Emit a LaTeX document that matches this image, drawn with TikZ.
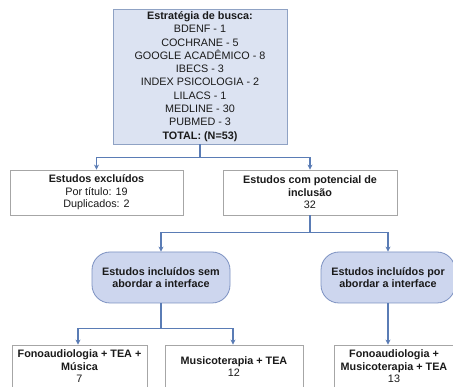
\documentclass[tikz,border=0pt]{standalone}
\usepackage{fontspec}
\setmainfont{Liberation Sans}
\usetikzlibrary{arrows.meta}
\definecolor{topfill}{HTML}{DCE3F2}
\definecolor{topdraw}{HTML}{8FA2C4}
\definecolor{rndfill}{HTML}{CDD6EE}
\definecolor{rnddraw}{HTML}{7D92C2}
\definecolor{conncol}{HTML}{5A7CB5}
\definecolor{boxdraw}{HTML}{A6A6A6}
\definecolor{txt}{HTML}{1A1A1A}
\begin{document}
\begin{tikzpicture}[x=1pt,y=-1pt,
 base/.style={inner sep=0pt, align=center, text=txt, font=\fontsize{10.8}{12.5}\selectfont},
 topbox/.style={base, draw=topdraw, fill=topfill, line width=0.8pt, font=\fontsize{10.8}{13.3}\selectfont},
 plainbox/.style={base, draw=boxdraw, fill=white, line width=0.8pt},
 rndbox/.style={base, draw=rnddraw, fill=rndfill, line width=0.8pt, rounded corners=18pt},
 conn/.style={draw=conncol, line width=1.1pt},
 arr/.style={conn, -{Stealth[length=5pt,width=5pt]}}]
\useasboundingbox (0,0) rectangle (453,387);
\clip (0,0) rectangle (453,387);
\fill[white] (0,0) rectangle (453,387);

\node[topbox, minimum width=174pt, minimum height=135pt] (top) at (200,76.5)
 {\textbf{Estratégia de busca:}\\BDENF - 1\\COCHRANE - 5\\GOOGLE ACADÊMICO - 8\\IBECS - 3\\INDEX PSICOLOGIA - 2\\LILACS - 1\\MEDLINE - 30\\PUBMED - 3\\\textbf{TOTAL: (N=53)}};

\node[plainbox, minimum width=173pt, minimum height=45pt] (m1) at (96.5,192.5)
 {\textbf{Estudos excluídos}\\Por título: 19\\Duplicados: 2};
\node[plainbox, minimum width=174pt, minimum height=45pt] (m2) at (310,192.5)
 {\textbf{Estudos com potencial de}\\\textbf{inclusão}\\32};

\node[rndbox, minimum width=138pt, minimum height=51pt] (r1) at (161,277.5)
 {\textbf{Estudos incluídos sem}\\\textbf{abordar a interface}};
\node[rndbox, minimum width=134pt, minimum height=51pt] (r2) at (388,277.5)
 {\textbf{Estudos incluídos por}\\\textbf{abordar a interface}};

\node[plainbox, minimum width=135pt, minimum height=43pt] (b1) at (79.5,366.5)
 {\textbf{Fonoaudiologia + TEA +}\\\textbf{Música}\\7};
\node[plainbox, minimum width=138pt, minimum height=43pt] (b2) at (234,366.5)
 {\textbf{Musicoterapia + TEA}\\12};
\node[plainbox, minimum width=120pt, minimum height=43pt] (b3) at (394,366.5)
 {\textbf{Fonoaudiologia +}\\\textbf{Musicoterapia + TEA}\\13};

\path (top.south) ++(0,13) coordinate (j1);
\draw[conn] (top.south) -- (j1);
\draw[arr] (j1) -| (m1.north);
\draw[arr] (j1) -| (m2.north);

\path (m2.south) ++(0,17) coordinate (j2);
\draw[conn] (m2.south) -- (j2);
\draw[arr] (j2) -| (r1.north);
\draw[arr] (j2) -| (r2.north);

\path (r1.south) ++(0,25) coordinate (j3);
\draw[conn] (r1.south) -- (j3);
\draw[arr] (j3) -| ([xshift=-1.5pt]b1.north);
\draw[arr] (j3) -| ([xshift=-1pt]b2.north);

\draw[arr] (r2.south) -- (r2.south |- b3.north);
\end{tikzpicture}
\end{document}
